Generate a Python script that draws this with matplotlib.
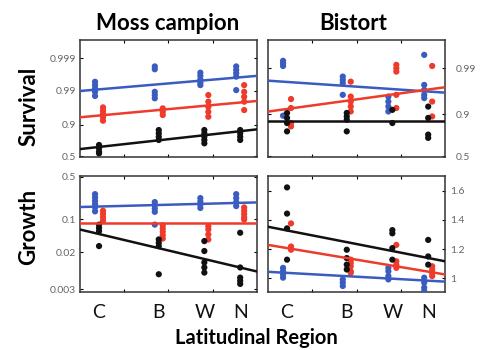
import numpy as np
import matplotlib
matplotlib.use('Agg')
import matplotlib.pyplot as plt

# region order along the x axis
regions = ['C', 'B', 'W', 'N']
region_pos = [0.43, 1.78, 2.81, 3.62]
dodge = {'blue': -0.09, 'black': 0.0, 'red': 0.09}

# Moss campion survival, one list per region (C, B, W, N)
moss_surv_blue = [[0.9947, 0.9933, 0.9916, 0.9893, 0.9857],
                  [0.9982, 0.9978, 0.9893, 0.9866, 0.9832],
                  [0.9972, 0.9965, 0.9955, 0.9943, 0.9933],
                  [0.9982, 0.9977, 0.9971, 0.9963, 0.9905]]
moss_surv_red = [[0.9686, 0.9605, 0.9507, 0.9388, 0.9234],
                 [0.9664, 0.9577, 0.9473],
                 [0.9866, 0.9788, 0.9698, 0.9577, 0.9410],
                 [0.9933, 0.9893, 0.9849, 0.9788, 0.9623]]
moss_surv_black = [[0.685, 0.632, 0.575, 0.547],
                   [0.862, 0.832, 0.796, 0.756],
                   [0.862, 0.832, 0.796, 0.756, 0.710],
                   [0.862, 0.832, 0.796, 0.756]]
# fitted lines: value at left and right edge (blue, red, black)
moss_surv_fits = [[0.9899, 0.9965], [0.9388, 0.9798], [0.620, 0.8676]]

# Bistort survival
bist_surv_blue = [[0.9932, 0.9922, 0.9911, 0.892],
                  [0.9846, 0.9817, 0.9784, 0.9609],
                  [0.9573, 0.9453, 0.9303, 0.9114],
                  [0.9950, 0.9764, 0.9696, 0.9609, 0.9540]]
bist_surv_red = [[0.9517, 0.925, 0.849, 0.825],
                 [0.980, 0.9573, 0.9453, 0.9303, 0.9114],
                 [0.9916, 0.9900, 0.9881, 0.9609, 0.925],
                 [0.9911, 0.9453, 0.888]]
bist_surv_black = [[0.905, 0.880, 0.849, 0.784],
                   [0.905, 0.888, 0.870, 0.784],
                   [0.918, 0.849],
                   [0.930, 0.880, 0.754, 0.721]]
bist_surv_fits = [[0.981, 0.965], [0.911, 0.9734], [0.865, 0.865]]

# Moss campion growth
moss_grow_blue = [[0.291, 0.257, 0.226, 0.198, 0.171, 0.144],
                  [0.214, 0.187, 0.162, 0.141, 0.078],
                  [0.251, 0.219, 0.192, 0.167],
                  [0.291, 0.251, 0.214, 0.181]]
moss_grow_red = [[0.148, 0.128, 0.110, 0.0945],
                 [0.0757, 0.0648, 0.0553, 0.0466, 0.0395],
                 [0.0724, 0.0618, 0.0483, 0.0377],
                 [0.171, 0.148, 0.128, 0.110, 0.099]]
moss_grow_black = [[0.078, 0.0667, 0.0569, 0.0271],
                   [0.0378, 0.0320, 0.0271, 0.00643],
                   [0.0348, 0.0211, 0.0118, 0.0091, 0.0070],
                   [0.0526, 0.0091, 0.0054, 0.0046, 0.0039]]
moss_grow_fits = [[0.174, 0.211], [0.0847, 0.0847], [0.0616, 0.0074]]

# Bistort growth
bist_grow_blue = [[1.072, 1.049, 1.027, 1.005],
                  [0.993, 0.971, 0.948],
                  [1.072, 1.049, 1.016, 0.993],
                  [1.005, 0.971, 0.937, 0.914]]
bist_grow_red = [[1.376, 1.218, 1.196],
                 [1.128, 1.106, 1.083, 1.049, 1.038],
                 [1.229, 1.117, 1.094, 1.072],
                 [1.083, 1.061, 1.038, 1.016]]
bist_grow_black = [[1.622, 1.443, 1.342, 1.128],
                   [1.196, 1.139, 1.094, 1.061],
                   [1.330, 1.308, 1.207, 1.128],
                   [1.263, 1.150, 1.094]]
bist_grow_fits = [[1.045, 0.978], [1.229, 1.027], [1.353, 1.117]]

colors = {'blue': '#3a5cc0', 'red': '#ee3b2b', 'black': '#111111'}
xlim = (0, 4)
font = ['Lato', 'DejaVu Sans']
tick_grey = '#666666'


def draw_panel(ax, blue, red, black, fits):
    series = [('blue', blue), ('red', red), ('black', black)]
    for name, groups in series:
        for pos, vals in zip(region_pos, groups):
            xs = np.full(len(vals), pos + dodge[name])
            ax.scatter(xs, vals, s=20, color=colors[name], edgecolors='none', zorder=3)
    for (name, _), fit in zip(series, fits):
        ax.plot(xlim, fit, color=colors[name], lw=1.8, zorder=4)
    ax.set_xlim(*xlim)
    ax.set_xticks([1, 2, 3])
    ax.set_xticklabels([])
    ax.tick_params(axis='both', which='both', direction='in', length=2.5, width=0.8,
                   top=True, bottom=True, left=True, right=True,
                   labelsize=7.5, labelcolor=tick_grey, pad=3)
    ax.minorticks_off()
    for sp in ax.spines.values():
        sp.set_color('#333333')
        sp.set_linewidth(1.1)


fig = plt.figure(figsize=(4.81, 3.5), dpi=100)
W, H = 481, 350


def make_ax(x0, y0, x1, y1):
    return fig.add_axes([x0 / W, 1 - y1 / H, (x1 - x0) / W, (y1 - y0) / H])


ax_tl = make_ax(80, 40, 257, 157)
ax_tr = make_ax(268, 40, 445, 157)
ax_bl = make_ax(80, 176, 257, 292)
ax_br = make_ax(268, 176, 445, 292)

draw_panel(ax_tl, moss_surv_blue, moss_surv_red, moss_surv_black, moss_surv_fits)
draw_panel(ax_tr, bist_surv_blue, bist_surv_red, bist_surv_black, bist_surv_fits)
draw_panel(ax_bl, moss_grow_blue, moss_grow_red, moss_grow_black, moss_grow_fits)
draw_panel(ax_br, bist_grow_blue, bist_grow_red, bist_grow_black, bist_grow_fits)

ax_tl.set_yscale('logit')
ax_tl.set_ylim(0.4825, 0.99972)
ax_tl.set_yticks([0.5, 0.9, 0.99, 0.999])
ax_tl.set_yticklabels(['0.5', '0.9', '0.99', '0.999'])
ax_tl.minorticks_off()

ax_tr.set_yscale('logit')
ax_tr.set_ylim(0.487, 0.9977)
ax_tr.set_yticks([0.5, 0.9, 0.99])
ax_tr.set_yticklabels(['0.5', '0.9', '0.99'])
ax_tr.minorticks_off()
ax_tr.tick_params(axis='y', labelleft=False, labelright=True, pad=8)

ax_bl.set_yscale('logit')
ax_bl.set_ylim(0.00257, 0.5125)
ax_bl.set_yticks([0.003, 0.02, 0.1, 0.5])
ax_bl.set_yticklabels(['0.003', '0.02', '0.1', '0.5'])
ax_bl.minorticks_off()

ax_br.set_ylim(0.907, 1.7)
ax_br.set_yticks([1.0, 1.2, 1.4, 1.6])
ax_br.set_yticklabels(['1', '1.2', '1.4', '1.6'])
ax_br.tick_params(axis='y', labelleft=False, labelright=True, pad=4)

for ax in (ax_tl, ax_tr, ax_bl, ax_br):
    for lab in ax.get_yticklabels():
        lab.set_family(font)

# region letters under the bottom panels
for ax in (ax_bl, ax_br):
    for pos, name in zip(region_pos, regions):
        ax.annotate(name, xy=(pos, 0), xycoords=('data', 'axes fraction'),
                    xytext=(0, -21), textcoords='offset pixels',
                    ha='center', va='center', fontsize=14, family=font, color='#111111')

title_kw = dict(fontweight='bold', family=font, ha='center', va='center')
fig.text(168 / W, 1 - 23 / H, 'Moss campion', fontsize=16, **title_kw)
fig.text(353 / W, 1 - 23 / H, 'Bistort', fontsize=16, **title_kw)
fig.text(29 / W, 1 - 106 / H, 'Survival', rotation=90, fontsize=16, **title_kw)
fig.text(29 / W, 1 - 227 / H, 'Growth', rotation=90, fontsize=16, **title_kw)
fig.text(256 / W, 1 - 338 / H, 'Latitudinal Region', fontsize=14.5, **title_kw)

fig.savefig('out.png', dpi=100)
